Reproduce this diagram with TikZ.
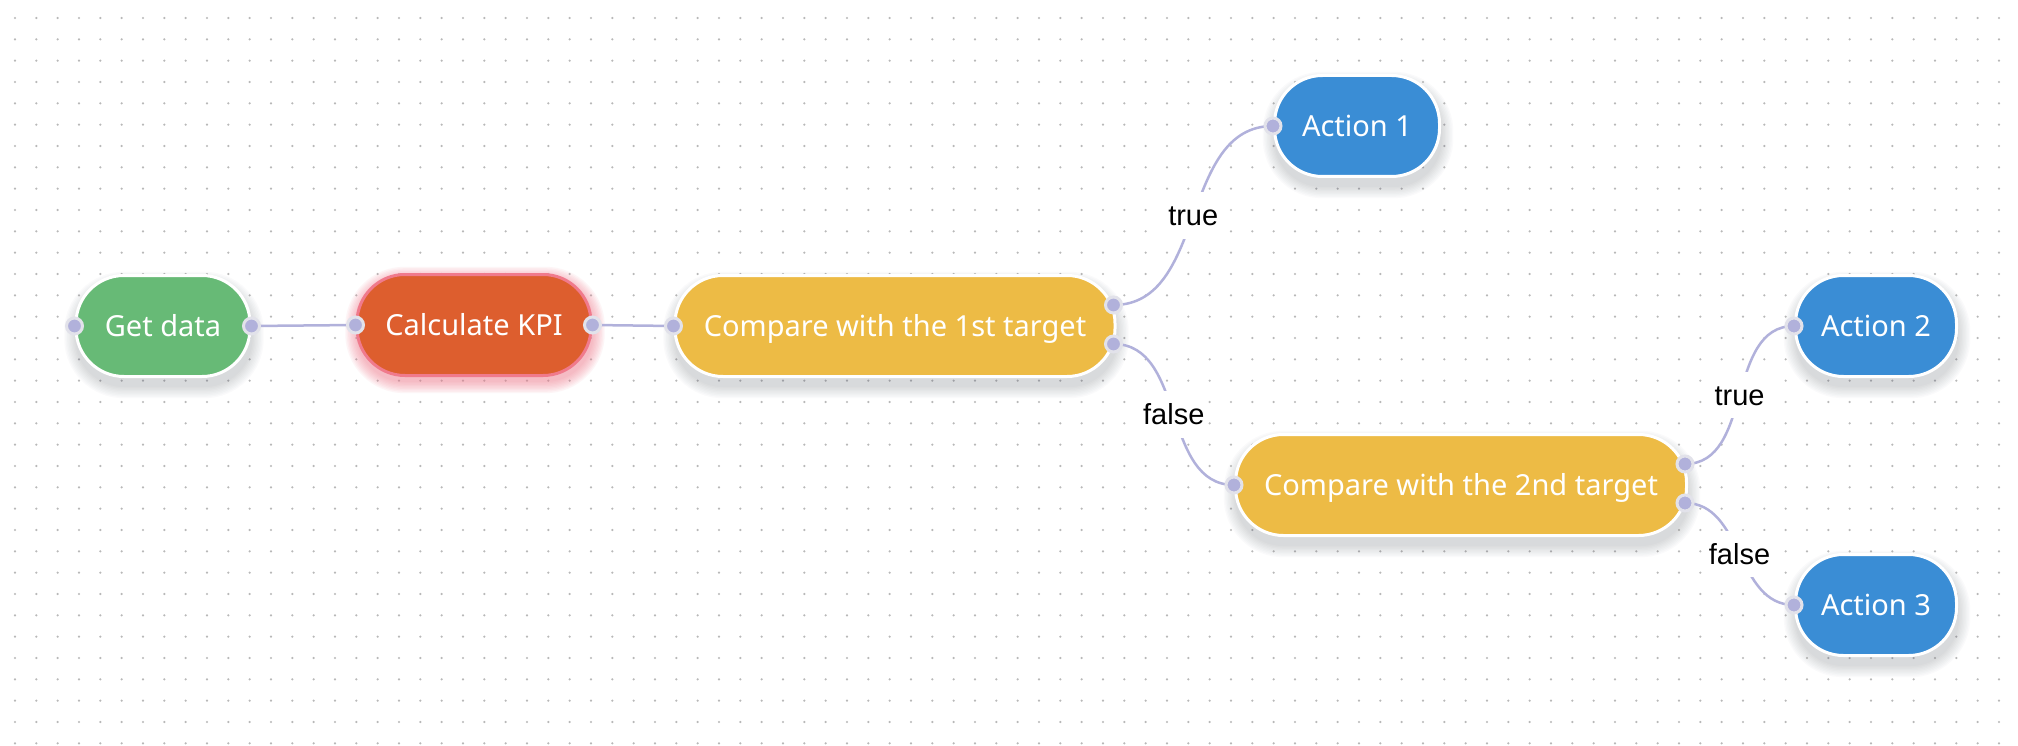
\documentclass[tikz,border=0pt]{standalone}
\usepackage{fontspec}
\setmainfont{Noto Sans}
\newfontfamily\lblfont{Liberation Sans}
\usetikzlibrary{calc}
\definecolor{cgreen}{HTML}{67BA76}
\definecolor{corange}{HTML}{DD5E2E}
\definecolor{cyellow}{HTML}{EDBB45}
\definecolor{cblue}{HTML}{3A8DD5}
\definecolor{cport}{HTML}{B1B1DB}
\definecolor{cportb}{HTML}{E2E2EA}
\definecolor{cedge}{HTML}{B1B1DB}
\definecolor{cdot}{HTML}{B8B8B8}
\definecolor{cglow}{HTML}{F07A8C}
\definecolor{cshadow}{HTML}{4A5060}
\pgfdeclarelayer{bg}
\pgfdeclarelayer{shade}
\pgfdeclarelayer{edge}
\pgfdeclarelayer{top}
\pgfsetlayers{bg,shade,main,edge,top}
\newcommand{\softshadow}[4]{% node, colour, opacity, offset
  \begin{pgfonlayer}{shade}
  \foreach \k in {0,...,8} {
    \pgfmathsetmacro{\rr}{48+1.4*\k}
    \pgfmathsetmacro{\ee}{1.4*\k}
    \fill[#2, opacity=#3, rounded corners=\rr pt]
      ($(#1.north west)+(-\ee+1,#4-\ee)$) rectangle ($(#1.south east)+(\ee+1,#4+\ee)$);
  }
  \end{pgfonlayer}}
\begin{document}
\begin{tikzpicture}[x=1pt,y=-1pt,
  flow/.style={rounded corners=48pt, draw=white, line width=3pt,
    minimum height=101pt, text=white, inner sep=0pt,
    font=\fontsize{29}{34}\selectfont, text height=20.7pt, text depth=0pt},
  port/.style={circle, fill=cport, draw=cportb, line width=3pt, inner sep=0pt, minimum size=16pt},
  link/.style={draw=cedge, line width=2.5pt},
  lbl/.style={fill=white, text=black, inner xsep=3pt, inner ysep=13pt,
    font=\lblfont\fontsize{29}{34}\selectfont, text height=20.8pt, text depth=0pt}
]
\begin{pgfonlayer}{bg}
\fill[white] (0,0) rectangle (2018,746);
\foreach \j in {0,...,34} {
  \fill[cdot] \foreach \i in {0,...,93} { (15+21.333*\i,18+21.333*\j) circle (1.2) };
}
\end{pgfonlayer}
\useasboundingbox (0,0) rectangle (2018,746);

% nodes
\node[flow, fill=cgreen, minimum width=174pt] (get) at (163,326) {Get data};
\node[flow, draw=cglow, fill=corange, minimum width=234pt] (kpi) at (474,325) {Calculate KPI};
\node[flow, fill=cyellow, minimum width=440pt] (c1) at (895,326) {Compare with the 1st target};
\node[flow, fill=cblue, minimum width=165pt] (a1) at (1357,126) {Action 1};
\node[flow, fill=cblue, minimum width=161pt] (a2) at (1876,326) {Action 2};
\node[flow, fill=cyellow, minimum width=451pt] (c2) at (1461,485) {Compare with the 2nd target};
\node[flow, fill=cblue, minimum width=161pt] (a3) at (1876,605) {Action 3};

% shadows and glow
\softshadow{get}{cshadow}{0.022}{9}
\softshadow{c1}{cshadow}{0.022}{9}
\softshadow{a1}{cshadow}{0.022}{9}
\softshadow{a2}{cshadow}{0.022}{9}
\softshadow{c2}{cshadow}{0.022}{9}
\softshadow{a3}{cshadow}{0.022}{9}
\softshadow{kpi}{cglow}{0.07}{5}

% ports
\begin{pgfonlayer}{top}
\node[port] (gi) at (get.west) {};
\node[port] (go) at (get.east) {};
\node[port] (ki) at (kpi.west) {};
\node[port] (ko) at (kpi.east) {};
\node[port] (c1i) at (c1.west) {};
\node[port] (c1t) at ($(c1.east)+(-3,-21)$) {};
\node[port] (c1f) at ($(c1.east)+(-3,18)$) {};
\node[port] (a1i) at (a1.west) {};
\node[port] (c2i) at (c2.west) {};
\node[port] (c2t) at ($(c2.east)+(-3,-21)$) {};
\node[port] (c2f) at ($(c2.east)+(-3,18)$) {};
\node[port] (a2i) at (a2.west) {};
\node[port] (a3i) at (a3.west) {};
\end{pgfonlayer}

% edges
\begin{pgfonlayer}{edge}
\draw[link] (go.center) -- (ki.center);
\draw[link] (ko.center) -- (c1i.center);
\draw[link] (c1t.center) to[out=0,in=180] node[lbl] {true} (a1i.center);
\draw[link] (c1f.center) to[out=0,in=180] node[lbl] {false} (c2i.center);
\draw[link] (c2t.center) to[out=0,in=180] node[lbl] {true} (a2i.center);
\draw[link] (c2f.center) to[out=0,in=180] node[lbl] {false} (a3i.center);
\end{pgfonlayer}
\end{tikzpicture}
\end{document}
